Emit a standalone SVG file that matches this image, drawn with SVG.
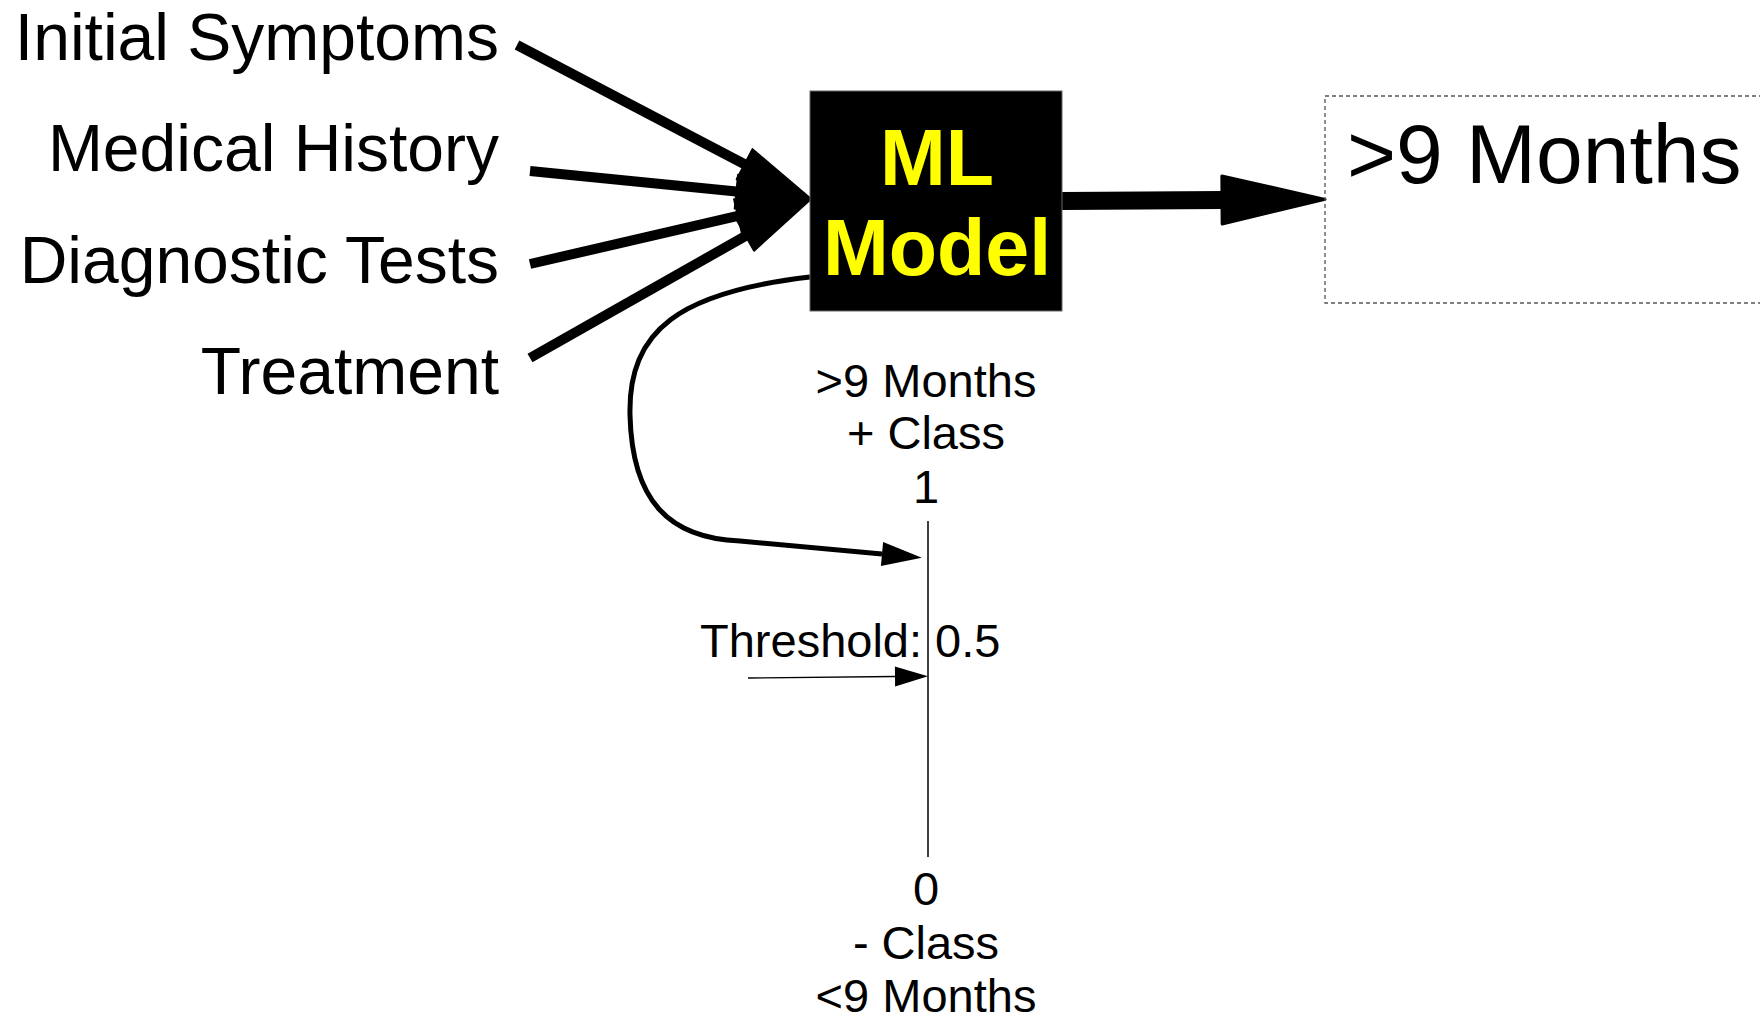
<svg xmlns="http://www.w3.org/2000/svg" width="1760" height="1015" viewBox="0 0 1760 1015">
<style>
text { font-family: "Liberation Sans", Arial, sans-serif; fill: #000; }
.lbl { font-size: 66px; text-anchor: end; }
.ax { font-size: 47px; text-anchor: middle; }
.ml { font-size: 79px; font-weight: bold; fill: #ffff00; text-anchor: middle; }
.in { stroke: #000; stroke-width: 10; fill: none; marker-end: url(#hBig); }
</style>
<defs>
<marker id="hBig" markerUnits="userSpaceOnUse" orient="auto" refX="0" refY="17" markerWidth="80" markerHeight="40" overflow="visible">
<path d="M0,0 L75,17 L0,34 Z" fill="#000" stroke="#000" stroke-width="2" stroke-linejoin="round"/>
</marker>
<marker id="hOut" markerUnits="userSpaceOnUse" orient="auto" refX="0" refY="24" markerWidth="110" markerHeight="50" overflow="visible">
<path d="M0,0 L103,24 L0,48 Z" fill="#000" stroke="#000" stroke-width="3" stroke-linejoin="round"/>
</marker>
<marker id="hMid" markerUnits="userSpaceOnUse" orient="auto" refX="0" refY="12" markerWidth="45" markerHeight="26" overflow="visible">
<path d="M0,0 L40,12 L0,24 Z" fill="#000"/>
</marker>
<marker id="hSmall" markerUnits="userSpaceOnUse" orient="auto" refX="0" refY="10" markerWidth="36" markerHeight="22" overflow="visible">
<path d="M0,0 L33,10 L0,20 Z" fill="#000"/>
</marker>
</defs>
<rect width="1760" height="1015" fill="#fff"/>

<g id="inputs">
<text id="t-initial" class="lbl" x="499" y="60">Initial Symptoms</text>
<text id="t-medical" class="lbl" x="499" y="171">Medical History</text>
<text id="t-diag" class="lbl" x="499" y="283">Diagnostic Tests</text>
<text id="t-treat" class="lbl" x="499" y="394">Treatment</text>
</g>

<g id="connectors">
<path class="in" d="M517,45 L744.6,164.2"/>
<path class="in" d="M530,171 L736.4,191.6"/>
<path class="in" d="M530,264 L737.9,215.9"/>
<path class="in" d="M530,358 L745.7,235.9"/>
<path d="M1062,201 L1222,200" stroke="#000" stroke-width="18" fill="none" marker-end="url(#hOut)"/>
<path d="M810,277 C680,292 628,330 630,415 C632,500 668,538 740,541 L882,554" stroke="#000" stroke-width="5" fill="none" marker-end="url(#hMid)"/>
<path d="M748,678 L895,676.5" stroke="#000" stroke-width="1.3" fill="none" marker-end="url(#hSmall)"/>
</g>

<g id="ml-model">
<rect x="810" y="91" width="252" height="220" fill="#000" stroke="#666" stroke-width="1"/>
<text class="ml" x="937" y="185">ML</text>
<text class="ml" x="937" y="275">Model</text>
</g>

<g id="output">
<rect x="1325" y="96" width="500" height="207" fill="none" stroke="#555" stroke-width="1.3" stroke-dasharray="4 3"/>
<text x="1347" y="183" style="font-size:84px">&gt;9 Months</text>
</g>

<g id="scale">
<line x1="928" y1="521" x2="928" y2="857" stroke="#000" stroke-width="1.5"/>
<text class="ax" x="926" y="397">&gt;9 Months</text>
<text class="ax" x="926" y="449">+ Class</text>
<text class="ax" x="926" y="503">1</text>
<text x="700" y="657" style="font-size:47px">Threshold: 0.5</text>
<text class="ax" x="926" y="905">0</text>
<text class="ax" x="926" y="959">- Class</text>
<text class="ax" x="926" y="1012">&lt;9 Months</text>
</g>
</svg>
